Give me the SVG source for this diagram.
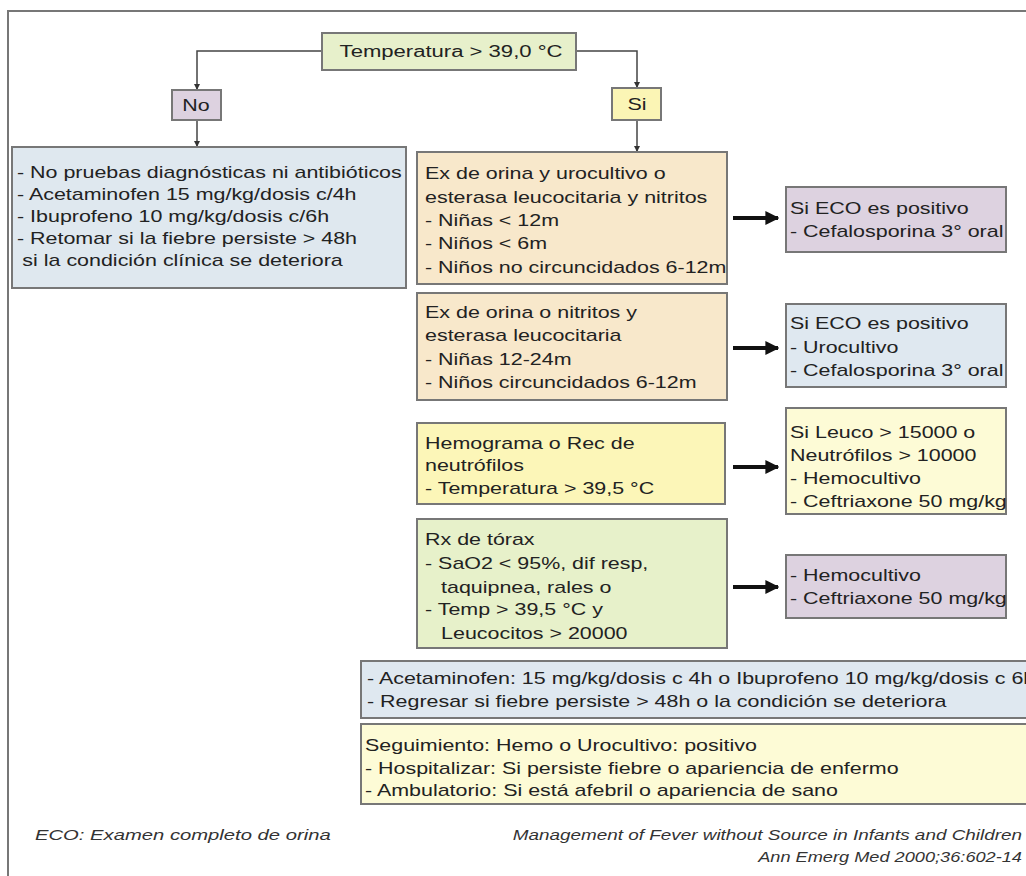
<svg xmlns="http://www.w3.org/2000/svg" width="1026" height="876" viewBox="0 0 1026 876">
<defs>
<style>
.box{stroke:#777;stroke-width:2}
.t{font-family:"Liberation Sans",Arial,sans-serif;font-size:16px;fill:#222}
.f{font-family:"Liberation Sans",Arial,sans-serif;font-size:14px;font-style:italic;fill:#333}
.ln{fill:none;stroke:#444;stroke-width:1.5}
.ar{fill:none;stroke:#111;stroke-width:4}
</style>
<marker id="sm" viewBox="0 0 6 6" refX="5" refY="3" markerWidth="6" markerHeight="6" markerUnits="userSpaceOnUse" orient="auto"><path d="M0,0 L6,3 L0,6 z" fill="#333"/></marker>
<marker id="big" viewBox="0 0 10 10" refX="9" refY="5" markerWidth="14" markerHeight="14" markerUnits="userSpaceOnUse" orient="auto"><path d="M0,0 L10,5 L0,10 z" fill="#111"/></marker>
</defs>
<rect width="1026" height="876" fill="#fff"/>
<path d="M8,876 V11 H1026" fill="none" stroke="#777" stroke-width="2"/>

<g id="connectors">
<path class="ln" d="M322,51 H197 V89" marker-end="url(#sm)"/>
<path class="ln" d="M576,51 H637 V87" marker-end="url(#sm)"/>
<path class="ln" d="M197,120 V146" marker-end="url(#sm)"/>
<path class="ln" d="M637,120 V151" marker-end="url(#sm)"/>
<path class="ar" d="M733,218 H778" marker-end="url(#big)"/>
<path class="ar" d="M733,348 H778" marker-end="url(#big)"/>
<path class="ar" d="M733,467 H778" marker-end="url(#big)"/>
<path class="ar" d="M733,587 H778" marker-end="url(#big)"/>
</g>

<g id="temp">
<rect class="box" x="322" y="33" width="254" height="37" fill="#e7f0cb"/>
<g transform="translate(451 0) scale(1.38 1)"><text class="t" x="0" y="57" text-anchor="middle">Temperatura &gt; 39,0 °C</text></g>
</g>
<g id="no">
<rect class="box" x="172" y="90" width="49" height="30" fill="#ddd2e0"/>
<g transform="translate(196 0) scale(1.34 1)"><text class="t" x="0" y="111" text-anchor="middle">No</text></g>
</g>
<g id="si">
<rect class="box" x="612" y="88" width="49" height="32" fill="#fbf5b5"/>
<g transform="translate(637 0) scale(1.34 1)"><text class="t" x="0" y="110" text-anchor="middle">Si</text></g>
</g>

<g id="noaction">
<rect class="box" x="12" y="147" width="394" height="141" fill="#dfe8ef"/>
<g transform="translate(17 0) scale(1.34 1)"><text class="t">
<tspan x="0" y="178">- No pruebas diagnósticas ni antibióticos</tspan>
<tspan x="0" y="200">- Acetaminofen 15 mg/kg/dosis c/4h</tspan>
<tspan x="0" y="222">- Ibuprofeno 10 mg/kg/dosis c/6h</tspan>
<tspan x="0" y="244">- Retomar si la fiebre persiste &gt; 48h</tspan>
<tspan x="4" y="266">si la condición clínica se deteriora</tspan>
</text></g>
</g>

<g id="orina1">
<rect class="box" x="417" y="152" width="310" height="132" fill="#f8e8cb"/>
<g transform="translate(425 0) scale(1.34 1)"><text class="t">
<tspan x="0" y="179">Ex de orina y urocultivo o</tspan>
<tspan x="0" y="203">esterasa leucocitaria y nitritos</tspan>
<tspan x="0" y="226">- Niñas &lt; 12m</tspan>
<tspan x="0" y="249">- Niños &lt; 6m</tspan>
<tspan x="0" y="273">- Niños no circuncidados 6-12m</tspan>
</text></g>
</g>
<g id="res1">
<rect class="box" x="786" y="187" width="220" height="65" fill="#ddd2e0"/>
<g transform="translate(790 0) scale(1.34 1)"><text class="t">
<tspan x="0" y="214">Si ECO es positivo</tspan>
<tspan x="0" y="237">- Cefalosporina 3° oral</tspan>
</text></g>
</g>

<g id="orina2">
<rect class="box" x="417" y="293" width="310" height="107" fill="#f8e8cb"/>
<g transform="translate(425 0) scale(1.34 1)"><text class="t">
<tspan x="0" y="318">Ex de orina o nitritos y</tspan>
<tspan x="0" y="341">esterasa leucocitaria</tspan>
<tspan x="0" y="365">- Niñas 12-24m</tspan>
<tspan x="0" y="388">- Niños circuncidados 6-12m</tspan>
</text></g>
</g>
<g id="res2">
<rect class="box" x="786" y="304" width="220" height="83" fill="#dfe8f0"/>
<g transform="translate(790 0) scale(1.34 1)"><text class="t">
<tspan x="0" y="329">Si ECO es positivo</tspan>
<tspan x="0" y="353">- Urocultivo</tspan>
<tspan x="0" y="376">- Cefalosporina 3° oral</tspan>
</text></g>
</g>

<g id="hemo">
<rect class="box" x="417" y="423" width="308" height="81" fill="#fcf6b8"/>
<g transform="translate(425 0) scale(1.34 1)"><text class="t">
<tspan x="0" y="449">Hemograma o Rec de</tspan>
<tspan x="0" y="471">neutrófilos</tspan>
<tspan x="0" y="494">- Temperatura &gt; 39,5 °C</tspan>
</text></g>
</g>
<g id="res3">
<rect class="box" x="786" y="408" width="220" height="106" fill="#fdfbd6"/>
<g transform="translate(790 0) scale(1.34 1)"><text class="t">
<tspan x="0" y="438">Si Leuco &gt; 15000 o</tspan>
<tspan x="0" y="461">Neutrófilos &gt; 10000</tspan>
<tspan x="0" y="484">- Hemocultivo</tspan>
<tspan x="0" y="507">- Ceftriaxone 50 mg/kg</tspan>
</text></g>
</g>

<g id="rx">
<rect class="box" x="417" y="519" width="310" height="129" fill="#e7f1ca"/>
<g transform="translate(425 0) scale(1.34 1)"><text class="t">
<tspan x="0" y="545">Rx de tórax</tspan>
<tspan x="0" y="569">- SaO2 &lt; 95%, dif resp,</tspan>
<tspan x="12" y="593">taquipnea, rales o</tspan>
<tspan x="0" y="615">- Temp &gt; 39,5 °C y</tspan>
<tspan x="12" y="639">Leucocitos &gt; 20000</tspan>
</text></g>
</g>
<g id="res4">
<rect class="box" x="786" y="555" width="220" height="63" fill="#ddd2e0"/>
<g transform="translate(790 0) scale(1.34 1)"><text class="t">
<tspan x="0" y="581">- Hemocultivo</tspan>
<tspan x="0" y="604">- Ceftriaxone 50 mg/kg</tspan>
</text></g>
</g>

<g id="ambul">
<rect class="box" x="361" y="661" width="680" height="57" fill="#dfe8f0"/>
<g transform="translate(367 0) scale(1.34 1)"><text class="t">
<tspan x="0" y="684">- Acetaminofen: 15 mg/kg/dosis c 4h o Ibuprofeno 10 mg/kg/dosis c 6h</tspan>
<tspan x="0" y="707">- Regresar si fiebre persiste &gt; 48h o la condición se deteriora</tspan>
</text></g>
</g>
<g id="seguimiento">
<rect class="box" x="361" y="724" width="680" height="80" fill="#fdfbd6"/>
<g transform="translate(365 0) scale(1.34 1)"><text class="t">
<tspan x="0" y="751">Seguimiento: Hemo o Urocultivo: positivo</tspan>
<tspan x="0" y="774">- Hospitalizar: Si persiste fiebre o apariencia de enfermo</tspan>
<tspan x="0" y="796">- Ambulatorio: Si está afebril o apariencia de sano</tspan>
</text></g>
</g>

<g id="footer">
<g transform="translate(35 0) scale(1.35 1)"><text class="f" x="0" y="840" style="font-size:15px">ECO: Examen completo de orina</text></g>
<g transform="translate(1022 0) scale(1.35 1)"><text class="f" x="0" y="840" text-anchor="end">Management of Fever without Source in Infants and Children</text></g>
<g transform="translate(1022 0) scale(1.3 1)"><text class="f" x="0" y="862" text-anchor="end">Ann Emerg Med 2000;36:602-14</text></g>
</g>
</svg>
